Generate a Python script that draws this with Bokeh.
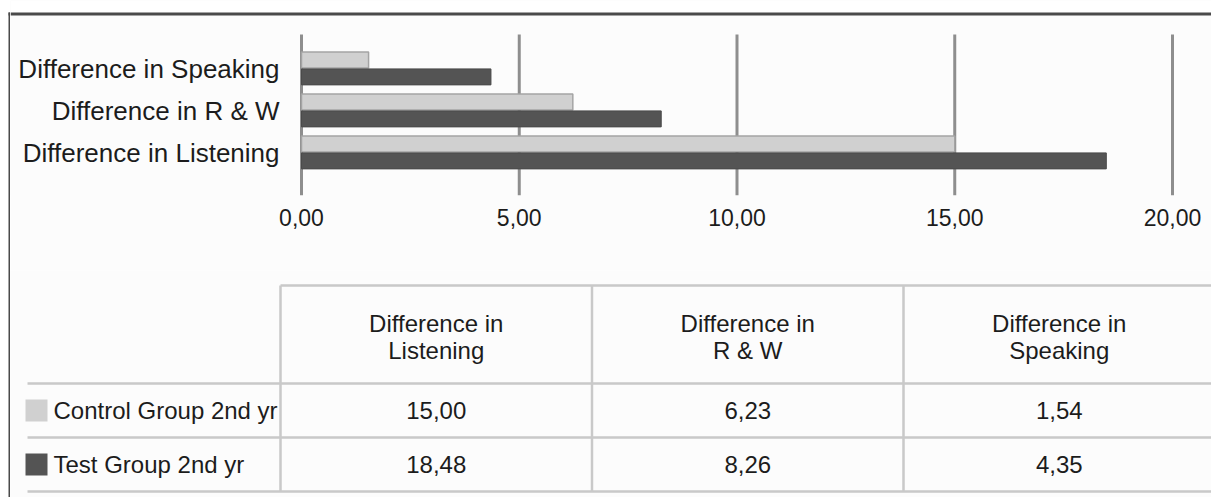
from bokeh.plotting import figure
from bokeh.layouts import column, row
from bokeh.models import Range1d, FixedTicker, ColumnDataSource
from bokeh.embed import file_html
from bokeh.resources import INLINE
from bokeh.core.properties import value

# ---------------- data ----------------
chart_categories = ["Difference in Speaking", "Difference in R & W", "Difference in Listening"]  # top -> bottom
table_columns = ["Difference in Listening", "Difference in R & W", "Difference in Speaking"]
series_names = ["Control Group 2nd yr", "Test Group 2nd yr"]
control_values = [15.00, 6.23, 1.54]   # in table column order
test_values = [18.48, 8.26, 4.35]      # in table column order
x_ticks = [0, 5, 10, 15, 20]
x_tick_labels = ["0,00", "5,00", "10,00", "15,00", "20,00"]

# ---------------- style / layout ----------------
FONT = "Liberation Sans"
TEXT_COLOR = "#1c1c1c"
LIGHT = "#d0d0d0"
DARK = "#545454"
BG = "#fcfcfc"
FRAME = "#4a4a4a"
GRID = "#8e8e8e"
TABLE_LINE = "#c9c9c9"
W = 1211
H = 497
OX = 10                    # width of the left strip holding the frame line
H1 = 270
H2 = H - H1
PLOT_BOTTOM = 195          # bottom of bar area (px)
GRID_TOP = 34              # top of grid lines (px)
X0_PX, X20_PX = 301, 1172  # pixel positions of value 0 and 20
GROUP_PX = 42              # spacing between category groups (px)
FIRST_GROUP_PX = 68        # centre of first group (px)

k = (X20_PX - X0_PX) / (x_ticks[-1] - x_ticks[0])


def fmt(v):
    return f"{v:.2f}".replace(".", ",")


def no_align(fig):
    try:
        fig.frame_align = False
    except Exception:
        pass


# ---------------- left strip (frame line) ----------------
strip = figure(width=OX, height=H, x_range=Range1d(0, OX), y_range=Range1d(H, 0),
               output_backend="svg", toolbar_location=None, x_axis_type=None, y_axis_type=None,
               min_border=0)
strip.background_fill_color = "white"
strip.border_fill_color = "white"
strip.outline_line_color = None
strip.grid.visible = False
strip.segment(x0=[9, 8], y0=[12, 13.5], x1=[9, OX], y1=[H, 13.5], line_color=FRAME, line_width=[2, 3])
no_align(strip)

# ---------------- bar chart ----------------
y_top = -FIRST_GROUP_PX / GROUP_PX
y_bot = y_top + PLOT_BOTTOM / GROUP_PX
p1 = figure(width=W - OX, height=H1,
            x_range=Range1d((OX - X0_PX) / k, (W - X0_PX) / k),
            y_range=Range1d(y_bot, y_top),
            output_backend="svg", toolbar_location=None, y_axis_type=None,
            min_border_left=0, min_border_right=0, min_border_top=0,
            min_border_bottom=H1 - PLOT_BOTTOM)
no_align(p1)
p1.extra_x_ranges = {"px": Range1d(OX, W)}
p1.extra_y_ranges = {"px": Range1d(PLOT_BOTTOM, 0)}
p1.background_fill_color = BG
p1.border_fill_color = BG
p1.outline_line_color = None
p1.grid.visible = False

# white band above the frame line
p1.quad(left=[OX], right=[W], top=[0], bottom=[12], x_range_name="px", y_range_name="px",
        fill_color="white", line_color=None)

# grid lines
p1.segment(x0=x_ticks, y0=[GRID_TOP] * len(x_ticks), x1=x_ticks, y1=[PLOT_BOTTOM] * len(x_ticks),
           y_range_name="px", line_color=GRID, line_width=3)

ys = list(range(len(chart_categories)))
ctrl = [control_values[table_columns.index(c)] for c in chart_categories]
tst = [test_values[table_columns.index(c)] for c in chart_categories]
bar_h = 0.38
src = ColumnDataSource(dict(y_c=[y - 0.2 for y in ys], y_t=[y + 0.2 for y in ys], ctrl=ctrl, tst=tst))
p1.hbar(y="y_c", left=0, right="ctrl", height=bar_h, source=src,
        fill_color=LIGHT, line_color="#a4a4a4", line_width=1.5)
p1.hbar(y="y_t", left=0, right="tst", height=bar_h, source=src,
        fill_color=DARK, line_color="#4a4a4a", line_width=1)

# category labels
p1.text(x=[0] * len(ys), y=ys, text=chart_categories, x_offset=-22,
        text_align="right", text_baseline="middle", text_font=value(FONT),
        text_font_size="26px", text_color=TEXT_COLOR)

# x axis
p1.xaxis.ticker = FixedTicker(ticks=x_ticks)
p1.xaxis.major_label_overrides = {t: l for t, l in zip(x_ticks, x_tick_labels)}
p1.xaxis.axis_line_color = None
p1.xaxis.major_tick_line_color = None
p1.xaxis.minor_tick_line_color = None
p1.xaxis.major_tick_out = 0
p1.xaxis.major_tick_in = 0
p1.xaxis.major_label_standoff = 13
p1.xaxis.major_label_text_font = FONT
p1.xaxis.major_label_text_font_size = "23px"
p1.xaxis.major_label_text_color = TEXT_COLOR

# outer frame (top)
p1.segment(x0=[OX], y0=[13.5], x1=[W], y1=[13.5],
           x_range_name="px", y_range_name="px", line_color=FRAME, line_width=3)

# ---------------- data table ----------------
p2 = figure(width=W - OX, height=H2, x_range=Range1d(OX, W), y_range=Range1d(H2, 0),
            output_backend="svg", toolbar_location=None, x_axis_type=None, y_axis_type=None,
            min_border=0)
no_align(p2)
p2.background_fill_color = BG
p2.border_fill_color = BG
p2.outline_line_color = None
p2.grid.visible = False

tbl_left = 280
col_w = 311.5
tbl_top = 15
head_h = 98
row_h = 54
row_left = 27
ncol = len(table_columns)
col_edges = [tbl_left + j * col_w for j in range(ncol + 1)]
col_centers = [tbl_left + (j + 0.5) * col_w for j in range(ncol)]
row_tops = [tbl_top + head_h + j * row_h for j in range(len(series_names) + 1)]
row_centers = [row_tops[j] + row_h / 2 for j in range(len(series_names))]

# horizontal lines
hx0 = [tbl_left] + [row_left] * len(row_tops)
hx1 = [W] * (len(row_tops) + 1)
hy = [tbl_top] + row_tops
p2.segment(x0=hx0, y0=hy, x1=hx1, y1=hy, line_color=TABLE_LINE, line_width=2.5)
# vertical lines
vx = col_edges[:-1]
p2.segment(x0=vx, y0=[tbl_top] * len(vx), x1=vx, y1=[row_tops[-1]] * len(vx),
           line_color=TABLE_LINE, line_width=2.5)

# header texts
headers = [c.replace("Difference in ", "Difference in\n") for c in table_columns]
p2.text(x=col_centers, y=[tbl_top + head_h / 2 + 2] * ncol, text=headers,
        text_align="center", text_baseline="middle", text_font=value(FONT),
        text_font_size="24px", text_color=TEXT_COLOR, text_line_height=1.0)

# values
vals_x, vals_y, vals_t = [], [], []
for r, series in enumerate([control_values, test_values]):
    for j, v in enumerate(series):
        vals_x.append(col_centers[j])
        vals_y.append(row_centers[r])
        vals_t.append(fmt(v))
p2.text(x=vals_x, y=vals_y, text=vals_t, text_align="center", text_baseline="middle",
        text_font=value(FONT), text_font_size="24px", text_color=TEXT_COLOR)

# legend keys and series names
p2.rect(x=[36] * len(series_names), y=row_centers, width=22, height=22,
        fill_color=[LIGHT, DARK], line_color=None)
p2.text(x=[53] * len(series_names), y=row_centers, text=series_names, text_align="left",
        text_baseline="middle", text_font=value(FONT), text_font_size="24px", text_color=TEXT_COLOR)

layout = row(strip, column(p1, p2, spacing=0), spacing=0)
open("out.html", "w").write(file_html(layout, INLINE))
